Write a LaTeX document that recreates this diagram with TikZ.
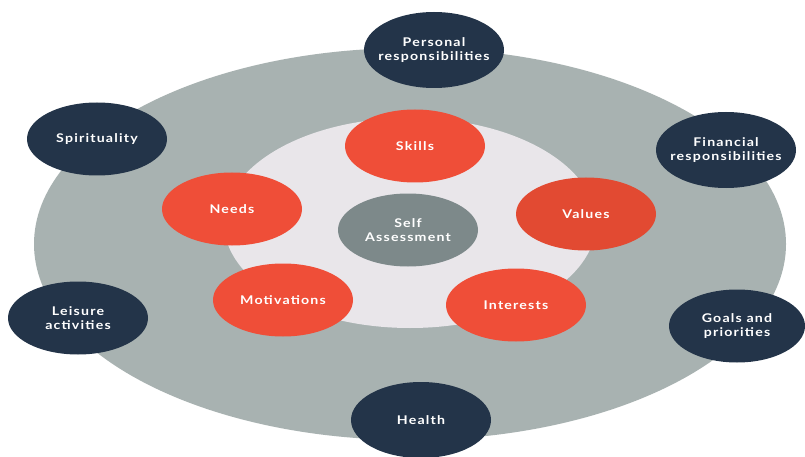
\documentclass[tikz,border=0pt]{standalone}
\usepackage{fontspec}
\setmainfont{Lato}[LetterSpace=10,FakeStretch=1.18]
\usetikzlibrary{shapes.geometric}
\definecolor{outergray}{HTML}{A8B2B1}
\definecolor{innerlight}{HTML}{E9E6EA}
\definecolor{redorange}{HTML}{EF4E38}
\definecolor{redvalues}{HTML}{E24A32}
\definecolor{navy}{HTML}{233449}
\definecolor{selfgray}{HTML}{7D898A}
\begin{document}
\begin{tikzpicture}[x=1pt,y=-1pt,
  blob/.style={ellipse, minimum width=140pt, minimum height=73pt, inner xsep=-14pt, inner ysep=0pt, text=white, align=center, font=\fontsize{12}{14.5}\selectfont\bfseries},
  outerblob/.style={blob, fill=navy},
  redblob/.style={blob, fill=redorange},
]
\useasboundingbox (0,0) rectangle (805,457);
\fill[white] (0,0) rectangle (805,457);
\fill[outergray] (410,244) ellipse [x radius=376, y radius=196];
\fill[innerlight] (410,223) ellipse [x radius=186, y radius=105];
\node[redblob] (skills) at (415,146) {Skills};
\node[redblob] (needs) at (232,209) {Needs};
\node[blob, fill=redvalues] (values) at (586,214) {Values};
\node[redblob] (motiv) at (283,300) {Motivations};
\node[redblob] (inter) at (516,305) {Interests};
\node[blob, fill=selfgray] (self) at (408,230) {Self\\Assessment};
\node[outerblob, minimum height=76pt] (pers) at (434,50) {Personal\\responsibilities};
\node[outerblob] (spir) at (97,139) {Spirituality};
\node[outerblob, minimum height=76pt] (fin) at (726,150) {Financial\\responsibilities};
\node[outerblob] (leis) at (78,318) {Leisure\\activities};
\node[outerblob, minimum width=136pt] (goals) at (737,326) {Goals and\\priorities};
\node[outerblob, minimum height=76pt] (health) at (421,420) {Health};
\end{tikzpicture}
\end{document}
